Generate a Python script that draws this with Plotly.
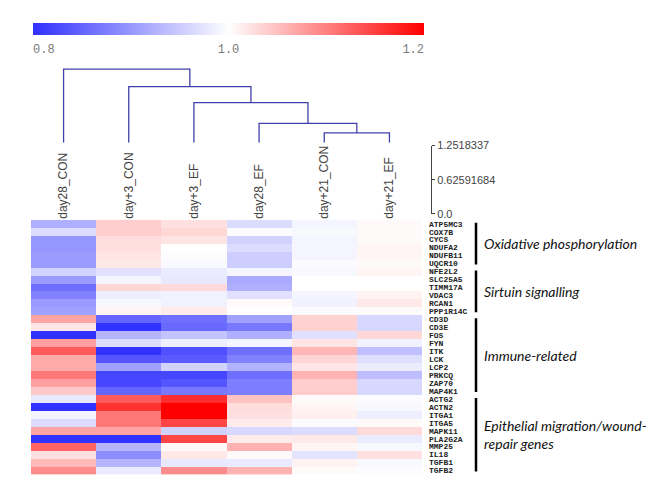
import plotly.graph_objects as go

# ---------------- data ----------------
samples = ["day28_CON", "day+3_CON", "day+3_EF", "day28_EF", "day+21_CON", "day+21_EF"]

genes = ["ATP5MC3", "COX7B", "CYCS", "NDUFA2", "NDUFB11", "UQCR10",
         "NFE2L2", "SLC25A5", "TIMM17A", "VDAC3", "RCAN1", "PPP1R14C",
         "CD3D", "CD3E", "FOS", "FYN", "ITK", "LCK", "LCP2", "PRKCQ", "ZAP70", "MAP4K1",
         "ACTG2", "ACTN2", "ITGA1", "ITGA5", "MAPK11", "PLA2G2A", "MMP25", "IL18", "TGFB1", "TGFB2"]

day28_CON = [0.923, 0.966, 0.899, 0.899, 0.903, 0.903, 0.957, 0.903, 0.860, 0.879, 0.903, 0.908,
             1.071, 1.020, 0.802, 1.075, 1.129, 1.067, 1.067, 1.106, 1.075, 1.043,
             0.978, 0.802, 0.990, 0.966, 1.071, 0.802, 1.122, 1.024, 1.055, 1.090]
day3_CON = [1.039, 1.039, 1.027, 1.026, 1.021, 1.018, 0.971, 0.990, 1.031, 0.984, 0.993, 1.008,
            0.850, 0.802, 0.928, 0.966, 0.802, 0.836, 0.908, 0.821, 0.821, 0.850,
            1.129, 1.161, 1.106, 1.106, 1.071, 0.802, 0.928, 0.889, 0.928, 0.981]
day3_EF = [1.024, 1.031, 1.021, 1.000, 0.997, 0.993, 0.981, 0.978, 1.029, 0.987, 0.987, 1.016,
           0.860, 0.855, 0.942, 0.984, 0.831, 0.841, 0.957, 0.821, 0.836, 0.870,
           1.165, 1.200, 1.200, 1.145, 0.957, 1.145, 1.005, 1.018, 0.978, 1.090]
day28_EF = [0.966, 0.997, 0.957, 0.966, 0.952, 0.952, 0.990, 0.918, 0.923, 0.971, 1.005, 1.000,
            0.908, 0.870, 0.923, 0.990, 0.860, 0.879, 0.926, 0.860, 0.874, 0.874,
            1.047, 1.027, 1.024, 1.016, 0.961, 1.016, 1.060, 1.004, 0.981, 1.060]
day21_CON = [0.990, 0.993, 0.990, 0.990, 0.990, 0.995, 0.993, 1.000, 1.000, 0.990, 0.986, 0.995,
             1.035, 1.035, 0.971, 1.021, 1.057, 1.034, 1.020, 1.060, 1.039, 1.039,
             1.004, 1.008, 1.012, 0.995, 0.966, 1.018, 1.008, 0.974, 1.010, 1.004]
day21_EF = [1.004, 1.004, 1.004, 1.008, 1.007, 1.004, 1.008, 1.000, 1.000, 1.010, 1.018, 1.004,
            0.961, 0.961, 1.031, 0.986, 0.939, 0.968, 0.982, 0.937, 0.961, 0.962,
            0.997, 0.993, 0.984, 1.004, 1.029, 0.981, 0.993, 1.024, 0.993, 0.997]

columns = [day28_CON, day3_CON, day3_EF, day28_EF, day21_CON, day21_EF]

# dendrogram linkage over leaf indices (new nodes numbered 6, 7, ...)
linkage = [(4, 5, 0.179), (3, 6, 0.352), (2, 7, 0.733), (1, 8, 1.025), (0, 9, 1.346)]
scale_ticks = [0.0, 0.62591684, 1.2518337]
scale_labels = ["0.0", "0.62591684", "1.2518337"]

groups = [("Oxidative phosphorylation", "ATP5MC3", "UQCR10"),
          ("Sirtuin signalling", "NFE2L2", "PPP1R14C"),
          ("Immune-related", "CD3D", "MAP4K1"),
          ("Epithelial migration/wound-<br>repair genes", "ACTG2", "TGFB2")]

# ---------------- layout helpers ----------------
W, H = 670, 502
def px(x): return x / W
def py(y): return 1 - y / H

z = [[col[i] for col in columns] for i in range(len(genes))]

colorscale = [[0.0, "rgb(48,48,255)"], [0.5, "rgb(255,255,255)"], [1.0, "rgb(255,0,0)"]]

fig = go.Figure()

fig.add_trace(go.Heatmap(
    z=z, x=samples, y=genes, zmin=0.8, zmax=1.2, colorscale=colorscale,
    xaxis="x", yaxis="y", hoverinfo="skip",
    colorbar=dict(orientation="h", x=px(228.5), xanchor="center", y=py(17), yanchor="top",
                  len=391 / W, lenmode="fraction", thickness=12, outlinewidth=0,
                  xpad=0, ypad=0,
                  tickvals=[0.8, 1.0, 1.2],
                  ticktext=["\u00a0\u00a0\u00a00.8", "1.0", "1.2\u00a0\u00a0\u00a0"],
                  ticks="outside", ticklen=4, tickcolor="rgba(0,0,0,0)",
                  tickfont=dict(family="Liberation Mono", size=12, color="#7a7a7a")),
))

# dendrogram
pos = {i: float(i) for i in range(len(samples))}
hgt = {i: 0.0 for i in range(len(samples))}
node = len(samples)
dx, dy = [], []
for a, b, h in linkage:
    dx += [pos[a], pos[a], pos[b], pos[b], None]
    dy += [hgt[a], h, h, hgt[b], None]
    pos[node] = (pos[a] + pos[b]) / 2
    hgt[node] = h
    node += 1
fig.add_trace(go.Scatter(x=dx, y=dy, mode="lines", xaxis="x2", yaxis="y2",
                         line=dict(color="rgb(64,64,172)", width=1.3),
                         showlegend=False, hoverinfo="skip"))

# scale axis dummy
fig.add_trace(go.Scatter(x=[None], y=[None], xaxis="x3", yaxis="y3",
                         showlegend=False, hoverinfo="skip"))

shapes, annotations = [], []
inset = 0.38
for label, g0, g1 in groups:
    i0, i1 = genes.index(g0), genes.index(g1)
    shapes.append(dict(type="line", xref="paper", yref="y", x0=px(476), x1=px(476),
                       y0=i0 - 0.5 + inset, y1=i1 + 0.5 - inset,
                       line=dict(color="black", width=2.5)))
    annotations.append(dict(xref="paper", yref="y", x=px(482), y=(i0 + i1) / 2,
                            xanchor="left", yanchor="middle", align="left", showarrow=False,
                            text=label,
                            font=dict(family="Lato", size=14, color="#111", style="italic")))

fig.update_layout(
    width=W, height=H, margin=dict(l=0, r=0, t=0, b=0),
    paper_bgcolor="white", plot_bgcolor="white", showlegend=False,
    xaxis=dict(domain=[px(31), px(422)], anchor="y", side="top", tickangle=-90,
               showgrid=False, zeroline=False, ticks="", showline=False,
               tickfont=dict(family="Liberation Sans", size=12, color="#444")),
    yaxis=dict(domain=[py(480), py(219)], anchor="x", side="right", autorange="reversed",
               tickmode="array", tickvals=genes, ticktext=genes,
               showgrid=False, zeroline=False, ticks="", ticklabelstandoff=6,
               tickfont=dict(family="Liberation Mono", size=8, color="#222", weight="bold")),
    xaxis2=dict(domain=[px(31), px(422)], anchor="y2", range=[-0.5, 5.5], visible=False),
    yaxis2=dict(domain=[py(140), py(62)], anchor="x2", range=[0, 1.395], visible=False),
    xaxis3=dict(domain=[px(430), px(431)], anchor="y3", visible=False, range=[0, 1]),
    yaxis3=dict(domain=[py(213), py(143)], anchor="x3", side="right", range=[0, 1.2518337],
                showline=True, linecolor="#444", linewidth=1, ticks="outside", ticklen=3,
                tickcolor="#444", tickvals=scale_ticks, ticktext=scale_labels,
                showgrid=False, zeroline=False,
                tickfont=dict(family="Liberation Sans", size=11, color="#444")),
    shapes=shapes, annotations=annotations,
)

fig.write_html("out.html", config={"displayModeBar": False},
               post_script="document.body.style.margin='0';")
